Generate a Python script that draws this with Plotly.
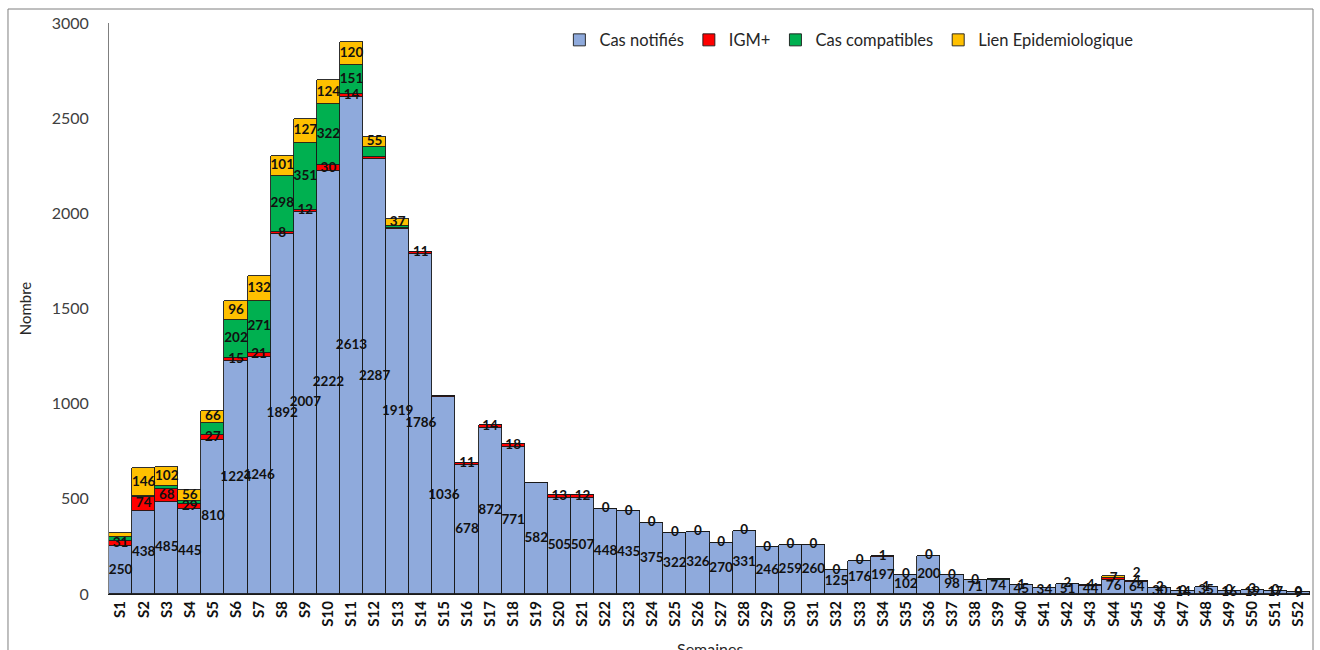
import plotly.graph_objects as go

weeks = [f"S{i}" for i in range(1, 53)]

cas_notifies = [250, 438, 485, 445, 810, 1224, 1246, 1892, 2007, 2222,
                2613, 2287, 1919, 1786, 1036, 678, 872, 771, 582, 505,
                507, 448, 435, 375, 322, 326, 270, 331, 246, 259,
                260, 125, 176, 197, 102, 200, 98, 71, 74, 45,
                34, 51, 44, 76, 64, 30, 14, 35, 16, 19, 17, 9]
igm_pos = [31, 74, 68, 29, 27, 15, 21, 8, 12, 30,
           14, 8, 6, 11, 5, 11, 14, 18, 0, 13,
           12, 0, 0, 0, 0, 0, 0, 0, 0, 0,
           0, 0, 0, 1, 0, 0, 0, 0, 0, 1,
           0, 2, 4, 7, 4, 2, 0, 1, 0, 3, 0, 0]
cas_compatibles = [20, 2, 14, 16, 60, 202, 271, 298, 351, 322,
                   151, 52, 8, 0, 0, 0, 0, 0, 3, 0,
                   0, 0, 0, 0, 0, 0, 0, 0, 0, 0,
                   0, 0, 0, 0, 0, 0, 0, 0, 3, 0,
                   0, 0, 0, 0, 0, 0, 0, 0, 0, 0, 0, 0]
lien_epi = [19, 146, 102, 56, 66, 96, 132, 101, 127, 124,
            120, 55, 37, 0, 0, 0, 0, 0, 0, 0,
            0, 0, 0, 0, 0, 0, 0, 0, 0, 0,
            0, 0, 0, 0, 0, 0, 0, 0, 0, 0,
            0, 0, 0, 10, 2, 0, 0, 0, 0, 0, 0, 0]

# which data labels are visible in the original
igm_hidden = {"S12", "S13", "S15", "S19", "S39", "S41"}
compat_shown = {"S6", "S7", "S8", "S9", "S10", "S11"}
lien_shown = {"S2", "S3", "S4", "S5", "S6", "S7", "S8", "S9", "S10", "S11", "S12", "S13", "S45"}
lien_above = {"S45"}

series = [
    ("Cas notifiés", cas_notifies, "#8FAADC"),
    ("IGM+", igm_pos, "#FF0000"),
    ("Cas compatibles", cas_compatibles, "#00B050"),
    ("Lien Epidemiologique", lien_epi, "#FFC000"),
]

fig = go.Figure()
for name, vals, col in series:
    fig.add_trace(go.Bar(
        x=weeks, y=vals, name=name,
        marker=dict(color=col, line=dict(color="#1a1a1a", width=0.9)),
    ))

# data labels
base = [0] * 52
lab_x, lab_y, lab_t, lab_pos = [], [], [], []
for idx, (name, vals, col) in enumerate(series):
    for i, w in enumerate(weeks):
        v = vals[i]
        pos = "middle center"
        if idx == 0:
            show = True
        elif idx == 1:
            show = w not in igm_hidden
        elif idx == 2:
            show = w in compat_shown
        else:
            show = w in lien_shown
            if w in lien_above:
                pos = "top center"
        if show:
            lab_x.append(w)
            if pos == "top center":
                lab_y.append(base[i] + v)
            else:
                lab_y.append(base[i] + v / 2)
            lab_t.append(str(v))
            lab_pos.append(pos)
        base[i] += v

fig.add_trace(go.Scatter(
    x=lab_x, y=lab_y, text=lab_t, mode="text", textposition=lab_pos,
    textfont=dict(family="Lato", size=13.5, color="#111111", weight="bold"),
    showlegend=False, hoverinfo="skip", cliponaxis=False,
))

fig.update_layout(
    width=1320, height=650,
    margin=dict(l=109, r=10, t=23, b=56),
    barmode="stack", bargap=0,
    paper_bgcolor="white", plot_bgcolor="white",
    font=dict(family="Lato", color="#404040"),
    legend=dict(orientation="h", x=0.375, y=0.97, xanchor="left", yanchor="middle",
                font=dict(size=16.5, color="#262626"), bgcolor="rgba(0,0,0,0)",
                itemwidth=30, traceorder="normal"),
    xaxis=dict(type="category", range=[-0.5, 51.5], autorange=False,
               tickangle=-90, showline=True, linecolor="#1a1a1a",
               linewidth=1, ticks="", showgrid=False,
               tickfont=dict(family="Lato", size=15, color="#111111", weight="bold")),
    yaxis=dict(range=[0, 3000], tickvals=[0, 500, 1000, 1500, 2000, 2500, 3000],
               showgrid=False, showline=True, linecolor="#7f7f7f", linewidth=1,
               ticks="", zeroline=False, ticklabelstandoff=16,
               tickfont=dict(family="Lato", size=16, color="#404040"),
               title=dict(text="Nombre", font=dict(family="Lato", size=15, color="#262626"),
                          standoff=16)),
    annotations=[dict(text="Semaines", xref="paper", yref="paper", x=0.5, y=0,
                      xanchor="center", yanchor="top", yshift=-43, showarrow=False,
                      font=dict(family="Lato", size=16, color="#262626"))],
    shapes=[dict(type="rect", xref="paper", yref="paper",
                 x0=-0.0841, x1=1.0025, y0=-0.3, y1=1.0245,
                 line=dict(color="#7f7f7f", width=1), layer="below")],
)

fig.write_html("out.html")
